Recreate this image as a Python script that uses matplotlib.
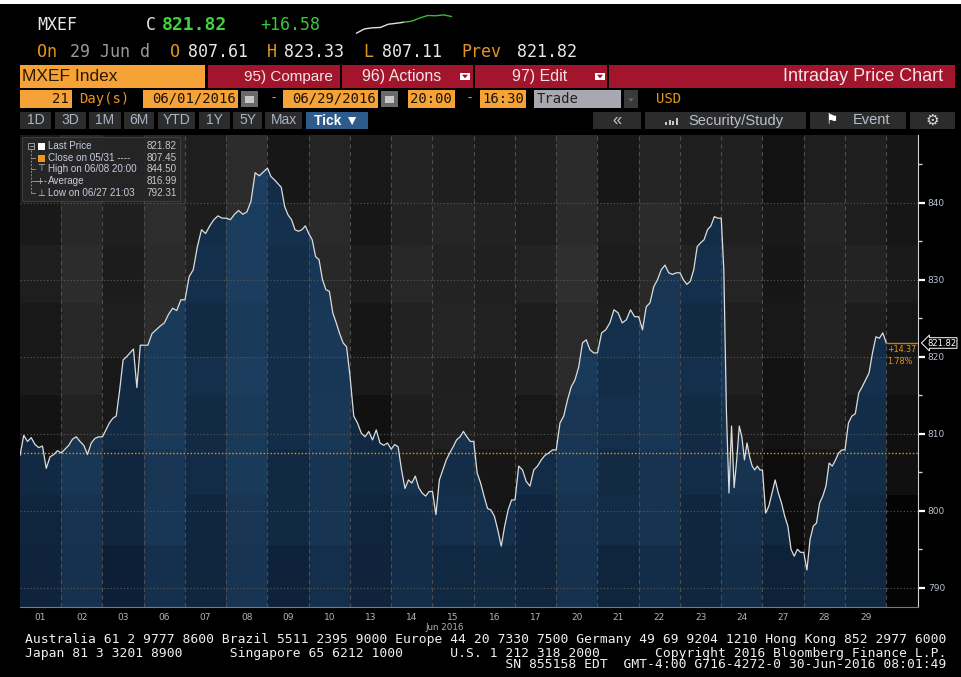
import numpy as np
import matplotlib
matplotlib.use("Agg")
import matplotlib.pyplot as plt
from matplotlib.patches import Rectangle, Polygon
from matplotlib.collections import PatchCollection

# ---------------- data ----------------
day_labels = ["01", "02", "03", "06", "07", "08", "09", "10", "13", "14", "15",
              "16", "17", "20", "21", "22", "23", "24", "27", "28", "29"]
p01 = [807.2, 809.8, 809.0, 809.5, 808.6, 808.2, 808.4, 805.5, 807.0, 807.3, 807.8]
p02 = [807.5, 808.0, 808.5, 809.3, 809.6, 809.0, 808.5, 807.3, 808.8, 809.4, 809.6]
p03 = [809.6, 810.5, 811.4, 812.0, 812.3, 815.7, 819.6, 820.0, 820.5, 821.0, 816.0, 821.5]
p06 = [821.5, 821.5, 823.0, 823.5, 824.0, 824.4, 825.5, 826.3, 826.0, 827.4]
p07 = [827.4, 830.4, 831.3, 834.3, 836.5, 836.0, 837.0, 837.8, 838.3, 838.0]
p08 = [838.0, 837.8, 838.5, 839.0, 838.5, 838.8, 840.2, 843.9, 843.5, 844.0]
p09 = [844.5, 843.4, 843.0, 842.5, 842.0, 839.5, 838.4, 837.8, 836.5, 836.3, 836.5, 837.0]
p10 = [836.0, 835.2, 833.0, 832.6, 830.0, 828.7, 828.5, 825.7, 824.4, 823.0, 821.8, 821.3]
p13 = [817.5, 812.3, 811.4, 810.1, 809.6, 810.3, 809.2, 810.5, 808.8, 808.5, 808.8]
p14 = [808.0, 808.6, 808.3, 805.3, 802.9, 804.0, 803.6, 804.5, 803.0, 802.3, 801.9, 802.5]
p15 = [802.5, 799.5, 804.0, 805.3, 806.6, 807.5, 808.3, 809.2, 809.6, 810.3, 809.6, 809.0]
p16 = [809.0, 804.9, 803.6, 801.9, 800.3, 800.1, 799.3, 797.5, 795.4, 798.0, 800.1, 801.4]
p17 = [801.4, 805.8, 805.3, 803.8, 803.2, 805.3, 805.8, 806.6, 807.2, 807.5, 807.9]
p20 = [807.9, 811.4, 812.3, 814.4, 816.1, 817.0, 818.7, 821.8, 822.2, 820.9, 820.5]
p21 = [820.5, 823.1, 823.5, 824.4, 826.1, 825.7, 824.4, 824.8, 826.1, 825.2]
p22 = [825.2, 823.5, 826.5, 827.0, 829.1, 830.0, 831.3, 831.9, 830.9, 830.7, 830.9]
p23 = [830.9, 830.0, 829.4, 829.8, 831.3, 834.3, 834.8, 835.2, 836.5, 837.0, 838.2, 838.0]
p24 = [838.0, 831.3, 813.0, 802.3, 811.0, 803.0, 806.6, 811.0, 809.6, 806.6, 808.8,
       807.0, 805.8, 805.3, 805.8, 805.3]
p27 = [805.3, 799.7, 800.6, 802.3, 804.0, 802.3, 801.0, 799.3, 798.0, 795.0, 794.1, 795.0, 794.6]
p28 = [794.6, 792.3, 796.3, 798.0, 798.4, 801.0, 801.9, 803.2, 806.2, 805.8, 806.6, 807.5, 807.9]
p29 = [807.9, 811.4, 812.3, 812.6, 815.3, 816.1, 817.0, 817.9, 820.5, 822.6, 822.4, 823.1, 821.8]
days_data = [p01, p02, p03, p06, p07, p08, p09, p10, p13, p14, p15,
             p16, p17, p20, p21, p22, p23, p24, p27, p28, p29]

prev_close = 807.45
last_price = 821.82
y_ticks = [790, 800, 810, 820, 830, 840]
legend_labels = ["Last Price", "Close on 05/31 ----", "High on 06/08 20:00",
                 "Average", "Low on 06/27 21:03"]
legend_values = ["821.82", "807.45", "844.50", "816.99", "792.31"]

# ---------------- styles ----------------
MONO = "DejaVu Sans Mono"
SANS = ["Liberation Sans", "DejaVu Sans"]
ORANGE_BOX = "#f5a236"
ORANGE_TXT = "#e3951f"
RED = "#a3152c"
BTN = "#2c2c2c"
W, H = 961, 677

fig = plt.figure(figsize=(W / 100, H / 100), dpi=100, facecolor="black")

# ---------------- chart ----------------
XMAX = 21.77
YMIN, YMAX = 787.5, 848.8
ax = fig.add_axes([20 / W, (H - 607) / H, 898 / W, 472 / H], zorder=2)
ax.set_xlim(0, XMAX)
ax.set_ylim(YMIN, YMAX)
ax.set_facecolor("black")

xs, ys = [], []
nd = len(days_data)
for i, d in enumerate(days_data):
    n = len(d)
    if i == nd - 1:
        xx = np.linspace(i, i + 1, n)
    else:
        xx = i + np.arange(n) / n
    xs.extend(xx)
    ys.extend(d)
xs = np.array(xs)
ys = np.array(ys)

col_edges = list(range(nd + 1)) + [XMAX]
row_edges = [YMIN, 795.5, 802, 808, 815, 820, 827, 834.5, 840, YMAX]
col_g = [26, 34, 28, 36, 30, 38, 27, 33, 24, 29, 35, 25, 31, 37, 27, 34, 30, 26, 22, 27, 31, 16]
row_g = [-14, -10, -6, -3, 0, 2, 4, 3, 0]
pat_g = [0, 6, -4, 3]
col_b = [0.35, 0.6, 0.3, 0.65, 0.4, 0.7, 0.4, 0.6, 0.35, 0.45, 0.55, 0.45, 0.4, 0.6,
         0.45, 0.55, 0.4, 0.5, 0.35, 0.5, 0.45, 0.3]
row_b = [-0.15, -0.05, 0.0, 0.05, 0.1, 0.05, 0.1, 0.15, 0.15]
pat_b = [0, 0.12, -0.08, 0.05]
dark_b = np.array([11, 29, 51]) / 255
light_b = np.array([29, 64, 98]) / 255

gray_rects, gray_cols, blue_rects, blue_cols = [], [], [], []
for c in range(len(col_edges) - 1):
    for r in range(len(row_edges) - 1):
        x0, x1 = col_edges[c], col_edges[c + 1]
        y0, y1 = row_edges[r], row_edges[r + 1]
        g = col_g[c] + row_g[r] + pat_g[(c + 2 * r) % 4]
        if c == len(col_edges) - 2 and r < 2:
            g = 4
        g = max(0, min(255, g)) / 255
        gray_rects.append(Rectangle((x0, y0), x1 - x0, y1 - y0))
        gray_cols.append((g, g, g))
        v = col_b[c] + row_b[r] + pat_b[(c + 2 * r) % 4]
        v = max(0.0, min(1.0, v))
        blue_rects.append(Rectangle((x0, y0), x1 - x0, y1 - y0))
        blue_cols.append(tuple(dark_b + (light_b - dark_b) * v))

ax.add_collection(PatchCollection(gray_rects, facecolors=gray_cols, edgecolors="none", zorder=0))
poly = Polygon([(xs[0], YMIN)] + list(zip(xs, ys)) + [(xs[-1], YMIN)],
               closed=True, facecolor="none", edgecolor="none")
ax.add_patch(poly)
blue_pc = PatchCollection(blue_rects, facecolors=blue_cols, edgecolors="none", zorder=1)
ax.add_collection(blue_pc)
blue_pc.set_clip_path(poly)

for t in y_ticks:
    ax.axhline(t, color="#5a5a5a", lw=0.8, ls=(0, (1, 2)), zorder=2)
for b in range(1, nd + 1):
    ax.axvline(b, color="#4c4c4c", lw=0.8, ls=(0, (4, 3)), zorder=2)
ax.axhline(prev_close, color="#e8961e", lw=1.0, ls=(0, (1, 1.5)), zorder=3)
ax.plot(xs, ys, color="#dcdcdc", lw=0.9, zorder=4)
ax.hlines(last_price, xs[-1], XMAX, color="#c87820", lw=1.0, zorder=4)

ax.yaxis.tick_right()
ax.set_yticks(y_ticks)
ax.set_yticks([795, 805, 815, 825, 835, 845], minor=True)
ax.tick_params(axis="y", which="major", length=5, width=1.6, color="white",
               labelcolor="#b8c0d0", labelsize=6.5, pad=2)
ax.tick_params(axis="y", which="minor", length=3, width=1, color="#d0d0d0")
ax.set_xticks([i + 0.5 for i in range(nd)])
ax.set_xticklabels(day_labels)
ax.tick_params(axis="x", length=0, labelcolor="#b4b4b4", labelsize=6.5, pad=4)
for s in ["left", "top"]:
    ax.spines[s].set_visible(False)
ax.spines["right"].set_color("#d0d0d0")
ax.spines["bottom"].set_color("#7a7a7a")

# ---------------- overlay (pixel coords) ----------------
ov = fig.add_axes([0, 0, 1, 1], zorder=10)
ov.set_xlim(0, W)
ov.set_ylim(H, 0)
ov.axis("off")
ov.patch.set_alpha(0)


def box(x0, y0, x1, y1, color, **kw):
    ov.add_patch(Rectangle((x0, y0), x1 - x0, y1 - y0, facecolor=color, edgecolor="none", **kw))


def T(x, y, s, size, color, ha="left", family=MONO, weight="normal"):
    ov.text(x, y, s, fontsize=size, color=color, ha=ha, va="center",
            family=family, fontweight=weight)


def tri(cx, cy, w, h, color):
    ov.add_patch(Polygon([(cx - w / 2, cy - h / 2), (cx + w / 2, cy - h / 2), (cx, cy + h / 2)],
                         closed=True, facecolor=color, edgecolor="none"))


box(0, 0, W, 4, "white")

# Row 1
T(37, 25, "MXEF", 12, "#e6e6e6")
T(146, 25, "C", 12, "#e0e0e0")
T(162, 25, "821.82", 13, "#3dd43d", weight="bold")
T(260, 25, "+16.58", 12, "#3cc83c")
sp = fig.add_axes([355 / W, 1 - 34 / H, 98 / W, 20 / H], zorder=11)
sp.axis("off")
sp.patch.set_alpha(0)
k = 6
sp.plot(range(k + 1), p29[:k + 1], color="#e0e0e0", lw=1)
sp.plot(range(k, len(p29)), p29[k:], color="#2fc02f", lw=1)
sp.set_xlim(-0.2, len(p29) - 0.8)

# Row 2
y2 = 52
T(37, y2, "On", 12, ORANGE_TXT)
T(70, y2, "29 Jun d", 12, "#9a9a9a")
T(170, y2, "O", 12, ORANGE_TXT)
T(188, y2, "807.61", 12, "#e8e8e8")
T(267, y2, "H", 12, ORANGE_TXT)
T(284, y2, "823.33", 12, "#e8e8e8")
T(363, y2, "L", 12, ORANGE_TXT)
T(382, y2, "807.11", 12, "#e8e8e8")
T(461, y2, "Prev", 12, ORANGE_TXT)
T(517, y2, "821.82", 12, "#e8e8e8")

# Row 3
y3 = 76.5
box(20, 65, 205, 88, ORANGE_BOX)
T(22, y3, "MXEF Index", 12.5, "#2a1a08", family=SANS)
box(208, 65, 340, 88, RED)
T(244, y3, "95) Compare", 11, "#f4e4e6", family=SANS)
box(342, 65, 473, 88, RED)
T(362, y3, "96) Actions", 11.5, "#f4e4e6", family=SANS)
box(460, 73, 470, 80, "white")
tri(465, 76.5, 6, 3.5, "#8a1020")
box(475, 65, 607, 88, RED)
T(512, y3, "97) Edit", 11.5, "#f4e4e6", family=SANS)
box(595, 73, 605, 80, "white")
tri(600, 76.5, 6, 3.5, "#8a1020")
box(609, 65, 955, 88, RED)
T(943, y3, "Intraday Price Chart", 13, "#f4e4e6", ha="right", family=SANS)

# Row 4
y4 = 99
box(20, 90, 72, 108, ORANGE_BOX)
T(69, y4, "21", 10, "#1a1208", ha="right")
T(79, y4, "Day(s)", 10, ORANGE_TXT)
box(143, 90, 238, 108, ORANGE_BOX)
T(236, y4, "06/01/2016", 10, "#1a1208", ha="right")
box(241, 91, 258, 107, "#6a6a6a")
box(245, 96, 254, 103, "#c8c8c8")
T(270, y4, "-", 10, ORANGE_TXT)
box(283, 90, 378, 108, ORANGE_BOX)
T(376, y4, "06/29/2016", 10, "#1a1208", ha="right")
box(381, 91, 398, 107, "#6a6a6a")
box(385, 96, 394, 103, "#c8c8c8")
box(408, 90, 455, 108, ORANGE_BOX)
T(452, y4, "20:00", 10, "#1a1208", ha="right")
T(466, y4, "-", 10, ORANGE_TXT)
box(480, 90, 526, 108, ORANGE_BOX)
T(524, y4, "16:30", 10, "#1a1208", ha="right")
box(534, 90, 621, 108, "#a8a8b0")
T(537, y4, "Trade", 10, "#222222")
box(624, 90, 638, 108, "#3a3a3a")
tri(631, 100, 5, 3, "#707070")
T(656, y4, "USD", 10, ORANGE_TXT)

# Row 5
y5 = 120.5
for x0, x1, s in [(20, 51, "1D"), (55, 86, "3D"), (89, 121, "1M"), (124, 154, "6M"),
                  (158, 195, "YTD"), (199, 230, "1Y"), (233, 262, "5Y"), (265, 302, "Max")]:
    box(x0, 112, x1, 129, BTN)
    T((x0 + x1) / 2, y5, s, 10, "#a8b4c4", ha="center", family=SANS)
box(306, 112, 368, 129, "#2e5b8c")
T(337, y5, "Tick ▼", 10, "white", ha="center", family=SANS, weight="bold")
box(593, 112, 641, 129, BTN)
T(617, y5, "«", 12, "#c0c8d4", ha="center", family=SANS)
box(645, 112, 806, 129, BTN)
for i, hgt in enumerate([3, 5, 4, 7]):
    box(665 + i * 3.5, 125 - hgt, 667 + i * 3.5, 125, "#c0c8d4")
T(688, y5, "Security/Study", 10.5, "#b8c0cc", family=SANS)
box(810, 112, 906, 129, BTN)
T(832, y5, "⚑", 10, "white", ha="center", family=["DejaVu Sans"])
T(853, y5, "Event", 10.5, "#b8c0cc", family=SANS)
box(910, 112, 955, 129, BTN)
T(932, y5, "⚙", 11, "#d8d8d8", ha="center", family=["DejaVu Sans"])

# Legend box
ov.add_patch(Rectangle((22, 137), 158, 64, facecolor="#262626", edgecolor="#404040",
                       lw=0.8, alpha=0.92))
ov.plot([31, 31], [150, 193], color="#8a8a8a", lw=0.7, ls=(0, (2, 1.5)))
for yy in [158, 169, 181, 193]:
    ov.plot([31, 35], [yy, yy], color="#8a8a8a", lw=0.7)
ov.add_patch(Rectangle((28, 143), 6, 6, facecolor="none", edgecolor="#9a9a9a", lw=0.7))
ov.plot([29.5, 32.5], [146, 146], color="#9a9a9a", lw=0.7)
leg_y = [146, 158, 169, 181, 193]
box(38, 142.5, 45, 149.5, "white")
box(38, 154.5, 45, 161.5, "#f0961e")
T(41.5, 169, "⊤", 6.5, "#c8c8c8", ha="center", family=["DejaVu Sans"])
T(41.5, 181, "-+-", 6, "#c8c8c8", ha="center", family=["DejaVu Sans"])
T(41.5, 193, "⊥", 6.5, "#c8c8c8", ha="center", family=["DejaVu Sans"])
for yy, lab, val in zip(leg_y, legend_labels, legend_values):
    T(48, yy, lab, 7.1, "#c8cce0", family=SANS)
    T(177, yy, val, 7.1, "#c8c8c8", ha="right", family=SANS)

# right side annotations
ov.text(927, 343, f"{last_price:.2f}", fontsize=6, color="white", ha="left", va="center",
        family="DejaVu Sans",
        bbox=dict(boxstyle="larrow,pad=0.1", fc="black", ec="#e0e0e0", lw=0.8))
chg = last_price - prev_close
T(887, 350, f"{chg:+.2f}", 5.8, ORANGE_TXT, family="DejaVu Sans")
T(887, 361, f"{chg / prev_close * 100:.2f}%", 5.8, ORANGE_TXT, family="DejaVu Sans")

T(445, 627, "Jun 2016", 6.3, "#b4b4b4", ha="center", family="DejaVu Sans")

# Footer
foot = [
    "Australia 61 2 9777 8600 Brazil 5511 2395 9000 Europe 44 20 7330 7500 Germany 49 69 9204 1210 Hong Kong 852 2977 6000",
    "Japan 81 3 3201 8900      Singapore 65 6212 1000      U.S. 1 212 318 2000       Copyright 2016 Bloomberg Finance L.P.",
    " " * 61 + "SN 855158 EDT  GMT-4:00 G716-4272-0 30-Jun-2016 08:01:49",
]
for yy, line in zip([640, 653, 665], foot):
    T(25, yy, line, 9.36, "#f0f0f0")

fig.savefig("out.png", dpi=100, facecolor="black")
